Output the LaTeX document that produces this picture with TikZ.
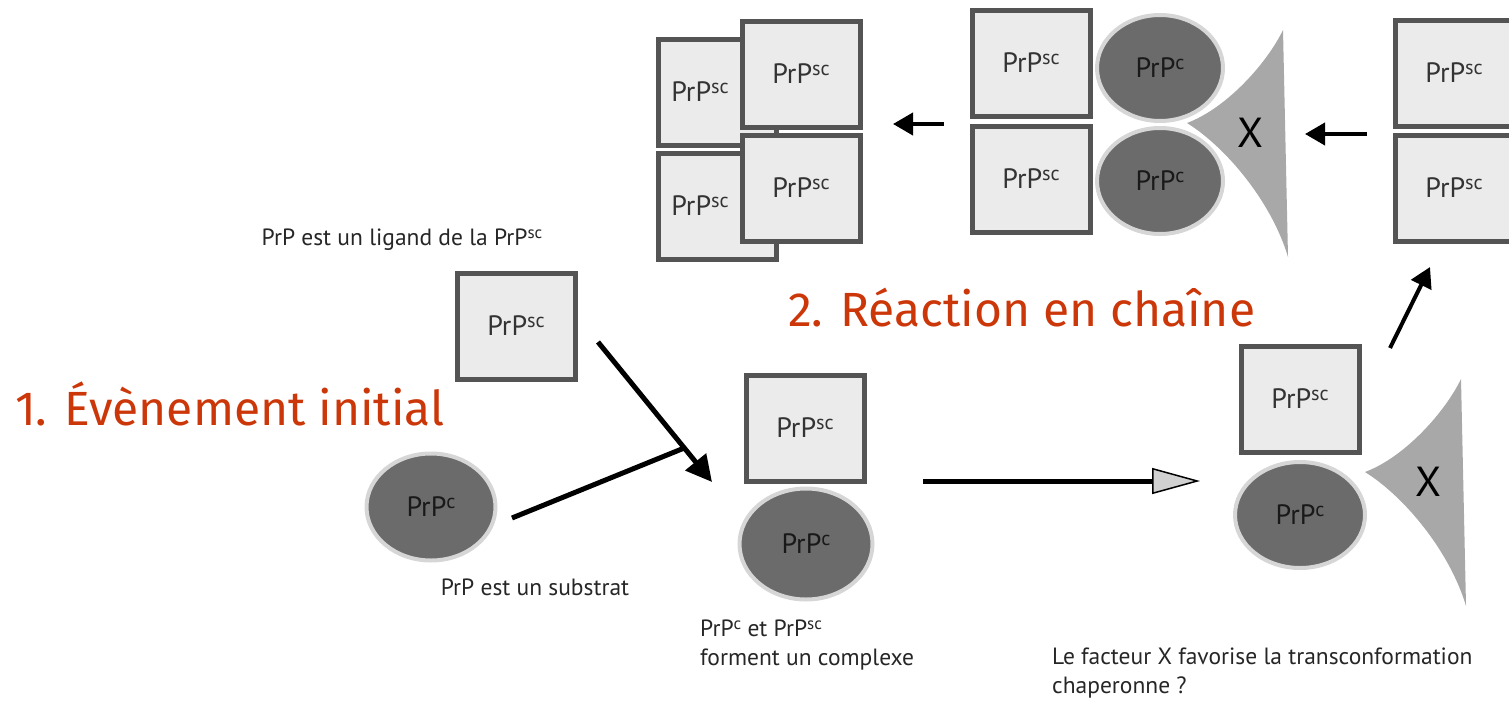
\documentclass[tikz,border=0pt]{standalone}
\usepackage{fontspec}
\usepackage{graphicx}
\setmainfont{PT Sans}
\newfontfamily\titlefont{Fira Sans}
\usetikzlibrary{arrows.meta,shapes.geometric,calc}
\definecolor{boxfill}{gray}{0.92}
\definecolor{boxline}{gray}{0.33}
\definecolor{ballfill}{gray}{0.42}
\definecolor{ballring}{gray}{0.84}
\definecolor{xfill}{gray}{0.66}
\definecolor{tipgray}{gray}{0.82}
\definecolor{titrered}{RGB}{204,55,10}
\newcommand{\expo}[1]{\raisebox{0.3em}{\scalebox{0.72}{#1}}}
\newcommand{\psc}{PrP\expo{sc}}
\newcommand{\ppc}{PrP\expo{c}}
\tikzset{
	scbox/.style={draw=boxline,fill=boxfill,line width=5pt,minimum width=118pt,minimum height=106pt,inner sep=0pt,font=\fontsize{28}{30}\selectfont,text=black!80},
	boxtext/.style={font=\fontsize{28}{30}\selectfont,text=black!80,inner sep=0pt},
	pcball/.style={ellipse,draw=ballring,fill=ballfill,line width=4pt,inner sep=0pt,font=\fontsize{28}{30}\selectfont,text=black!90},
	note/.style={font=\fontsize{23.5}{29}\selectfont,text=black!85,align=left,inner sep=0pt},
	titre/.style={font=\titlefont\fontsize{48}{50}\selectfont,text=titrered,inner sep=0pt},
	fleche/.style={line width=4pt,-{Triangle[length=20pt,width=22pt]}},
}
\begin{document}
\begin{tikzpicture}[x=1pt,y=-1pt]
	\useasboundingbox (0,0) rectangle (1509,704);
	\node[scbox] (a) at (717,92) {};
	\node[scbox] (b) at (717,206) {};
	\node[boxtext] (at) at ([xshift=-17pt]a.center) {\psc};
	\node[boxtext] (bt) at ([xshift=-17pt]b.center) {\psc};
	\node[scbox] (c) at (801,74) {\psc};
	\node[scbox] (d) at (801,188) {\psc};
	\node[scbox] (e) at (1031,63) {\psc};
	\node[scbox] (f) at (1031,179) {\psc};
	\node[scbox] (i) at (1454,73) {\psc};
	\node[scbox] (j) at (1454,188) {\psc};
	\node[scbox] (k) at (516,326) {\psc};
	\node[scbox] (m) at (805,428) {\psc};
	\node[scbox] (o) at (1300,399) {\psc};
	\foreach \tx/\ty/\nm in {1187/123/xa,1365/472/xb}{
		\fill[xfill,shift={(\tx,\ty)}] (0,0) .. controls (40,-15) and (80,-60) .. (96,-93) -- (101,134) .. controls (85,80) and (40,25) .. cycle;
		\node[font=\fontsize{42}{44}\selectfont,inner sep=0pt] (\nm) at (\tx+63,\ty+10) {X};
	}
	\node[pcball,minimum width=126pt,minimum height=106pt] (g) at (1160,68) {\ppc};
	\node[pcball,minimum width=126pt,minimum height=106pt] (h) at (1160,181) {\ppc};
	\node[pcball,minimum width=129pt,minimum height=107pt] (l) at (431,507) {\ppc};
	\node[pcball,minimum width=133pt,minimum height=111pt] (n) at (806,544) {\ppc};
	\node[pcball,minimum width=130pt,minimum height=106pt] (p) at (1300,515) {\ppc};
	\coordinate (k1) at (598,342);
	\coordinate (m1) at (712,482);
	\coordinate (jn) at ($(k1)!0.757!(m1)$);
	\coordinate (l1) at (512,518);
	\draw[line width=5pt,-{Triangle[length=26pt,width=26pt]}] (k1) -- (m1);
	\draw[line width=5pt] (l1) -- (jn);
	\coordinate (m2) at (923,481);
	\coordinate (o2) at (1200,481);
	\draw[line width=5pt,-{Triangle[length=48pt,width=26pt,fill=tipgray,line width=1.5pt]}] (m2) -- (o2);
	\coordinate (o3) at (1390,348);
	\coordinate (j3) at (1430,267);
	\draw[fleche] (o3) -- (j3);
	\coordinate (i3) at (1367,134);
	\coordinate (xa3) at (1305,134);
	\draw[fleche] (i3) -- (xa3);
	\coordinate (e3) at (944,124);
	\coordinate (c3) at (893,124);
	\draw[fleche] (e3) -- (c3);
	\node[note] (ligand) at (402,240) {PrP est un ligand de la \psc};
	\node[note] (substrat) at (535,587) {PrP est un substrat};
	\node[note,anchor=north west] (complexe) at (700,620) {\ppc{} et \psc\\forment un complexe};
	\node[note,anchor=north west] (facteur) at (1052,648) {Le facteur X favorise la transconformation\\chaperonne ?};
	\node[titre,anchor=base west] (t1) at (15,425) {1. Évènement initial};
	\node[titre,anchor=base west] (t2) at (788,326) {2. Réaction en chaîne};
\end{tikzpicture}
\end{document}
